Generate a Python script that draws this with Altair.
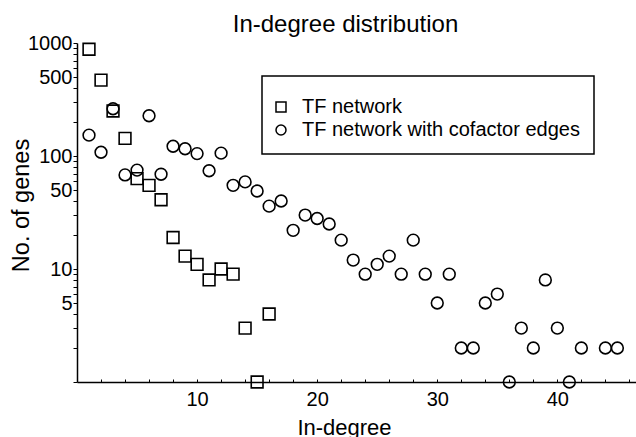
import altair as alt
import pandas as pd

# --- data ---
tf_degree = list(range(1, 17))
tf_genes = [880, 470, 250, 143, 63, 55, 41, 19, 13, 11, 8, 10, 9, 3, 1, 4]

cof_degree = [1, 2, 3, 4, 5, 6, 7, 8, 9, 10, 11, 12, 13, 14, 15, 16, 17, 18, 19, 20,
              21, 22, 23, 24, 25, 26, 27, 28, 29, 30, 31, 32, 33, 34, 35, 36, 37, 38,
              39, 40, 41, 42, 44, 45]
cof_genes = [153, 108, 262, 68, 75, 227, 69, 122, 116, 105, 74, 106, 55, 59, 49, 36, 40,
             22, 30, 28, 25, 18, 12, 9, 11, 13, 9, 18, 9, 5, 9, 2, 2, 5, 6, 1, 3, 2,
             8, 3, 1, 2, 2, 2]

series_names = ["TF network", "TF network with cofactor edges"]
series_shapes = ["square", "circle"]

x_ticks = list(range(2, 47, 2))
y_ticks = [m * 10 ** k for k in range(3) for m in range(1, 10)] + [1000]
y_labelled = [5, 10, 50, 100, 500, 1000]

df = pd.concat([
    pd.DataFrame({"deg": tf_degree, "genes": tf_genes, "series": series_names[0]}),
    pd.DataFrame({"deg": cof_degree, "genes": cof_genes, "series": series_names[1]}),
])

FONT = "Liberation Sans"

chart = alt.Chart(df).mark_point(
    filled=False, strokeWidth=1.6, color="black", size=138, opacity=1
).encode(
    x=alt.X(
        "deg:Q",
        scale=alt.Scale(domain=[0, 46.55], nice=False, zero=False),
        axis=alt.Axis(
            title="In-degree", values=x_ticks,
            labelExpr="datum.value % 10 === 0 ? datum.label : ''",
            tickSize={"expr": "-3"}, labelPadding=10, labelFlush=False,
            labelOverlap=False, grid=False,
            titleX=267, titleY=52, titleBaseline="alphabetic", titleAlign="center",
            titleFontSize=22,
        ),
    ),
    y=alt.Y(
        "genes:Q",
        scale=alt.Scale(type="log", domain=[1, 1000], nice=False),
        axis=alt.Axis(
            title="No. of genes", values=y_ticks, format="d",
            labelExpr="indexof(" + str(y_labelled) + ", datum.value) >= 0 ? datum.label : ''",
            tickSize={"expr": "4"}, labelPadding=1, labelOverlap=False, grid=False,
            titleX=-48.5, titleY=162, titleBaseline="alphabetic", titleAlign="center",
            titleAngle=270, titleFontSize=23.5,
        ),
    ),
    shape=alt.Shape(
        "series:N",
        scale=alt.Scale(domain=series_names, range=series_shapes),
        legend=alt.Legend(
            title=" ", titleFontSize=1, titlePadding=6,
            orient="none", legendX=185, legendY=33,
            strokeColor="black", padding=14, fillColor="white",
            symbolSize=100, symbolStrokeWidth=1.5, symbolStrokeColor="black",
            symbolFillColor="transparent", symbolOffset=-5,
            labelFontSize=20, labelFont=FONT,
            labelColor="black", labelOffset=11, rowPadding=3,
            labelLimit=500,
        ),
    ),
).properties(
    width=559,
    height=339,
    background="white",
    title=alt.TitleParams(
        "In-degree distribution", fontSize=24, font=FONT, fontWeight="normal",
        color="black", anchor="middle", frame="group", dx=-11, dy=27,
        baseline="alphabetic",
    ),
    autosize=alt.AutoSizeParams(type="none"),
    padding={"left": 77, "top": 43, "right": 0, "bottom": 55},
).configure_axis(
    domainColor="black", domainWidth=1.5, tickColor="black", tickWidth=1,
    labelFont=FONT, labelFontSize=20, labelColor="black",
    titleFont=FONT, titleFontWeight="normal", titleColor="black",
).configure_legend(
    strokeWidth=1.5,
).configure_view(
    stroke=None,
)

chart.save("out.html", embed_options={"renderer": "svg", "actions": False})
